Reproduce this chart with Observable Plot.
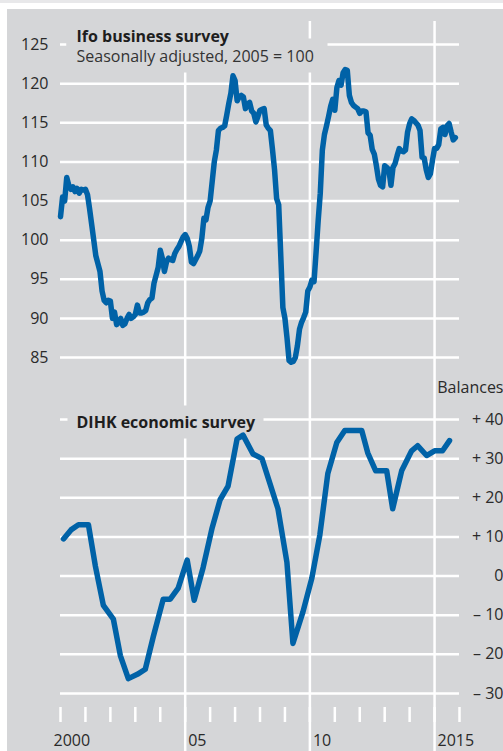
<!DOCTYPE html>
<html><head><meta charset="utf-8">
<script src="https://cdn.jsdelivr.net/npm/d3@7"></script>
<script src="https://cdn.jsdelivr.net/npm/@observablehq/plot@0.6"></script>
<style>
body{margin:0;background:#fff;font-family:"Open Sans",sans-serif;}
#wrap{position:relative;width:503px;height:751px;overflow:hidden;}
.abs{position:absolute;}
</style></head><body>
<div id="wrap">
  <div class="abs" style="left:0;top:0;width:503px;height:3px;background:#e8e8ea"></div>
  <div class="abs" style="left:7px;top:9px;width:496px;height:742px;background:#d5d6d8"></div>
  <div id="top" class="abs" style="left:0;top:9px"></div>
  <div id="bottom" class="abs" style="left:0;top:370px"></div>
</div>
<script>
// Ifo business climate, monthly from January 2000 (2005 = 100)
const ifoStartYear = 2000;
const ifoValues = [
  103, 105.5, 105, 108, 107, 106.5, 106.8, 106.2, 106.6, 106, 106.5, 106.4,
  106.5, 105.8, 104, 102, 100, 98, 97, 96, 93.5, 92.3, 92, 92.3,
  92.2, 90, 90.8, 89.2, 89.5, 90, 89.1, 89.3, 90, 90.5, 90, 90.2,
  90.5, 91.7, 90.7, 90.7, 90.8, 91, 92, 92.4, 92.6, 94.5, 95.5, 96.5,
  98.7, 97.7, 96, 97.2, 97.7, 97.5, 97.4, 98.3, 98.8, 99.2, 99.8, 100.4,
  100.7, 100.2, 99.2, 97.2, 97, 97.5, 98, 98.6, 100.2, 102.8, 102.6, 104.2,
  105, 107.5, 110, 111.5, 114, 114.3, 114.4, 114.6, 116, 117.5, 118.8, 121,
  120.4, 117.8, 118.3, 118.5, 118.3, 116.8, 117.4, 117.6, 116.5, 116.2, 115.1, 115.8,
  116.6, 116.7, 116.8, 114.7, 114.3, 114, 111.6, 109, 105.3, 104.5, 98, 91.4,
  90, 87.5, 84.6, 84.4, 84.5, 85, 86.5, 88.6, 89.5, 90.1, 90.8, 93.5,
  94, 94.9, 94.7, 98.5, 102.5, 106, 111.5, 113.5, 114.6, 115.8, 117.1, 118,
  116.6, 119.5, 120.4, 119.8, 121.4, 121.8, 121.7, 118.5, 117.6, 117.2, 117, 116.8,
  116.2, 116.5, 116.5, 116.4, 113.7, 113.4, 111.6, 111, 109.5, 107.8, 107, 106.8,
  109.5, 109.3, 109, 107, 109.3, 109.8, 110.8, 111.7, 111.4, 111.3, 111.5, 113.8,
  114.9, 115.5, 115.3, 115, 114.7, 114, 110.6, 110.5, 109, 108, 108.5, 110.2,
  111.7, 111.7, 112.2, 114.2, 114.4, 113.5, 114.6, 114.9, 113.8, 112.8, 113.1
];
const ifoTicks = [85, 90, 95, 100, 105, 110, 115, 120, 125];

// DIHK economic survey, balances (survey dates as decimal years)
const dihkDates = [
  2000.12, 2000.42, 2000.72, 2001.12, 2001.4, 2001.72, 2002.12, 2002.4, 2002.72,
  2003.08, 2003.4, 2003.72, 2004.12, 2004.4, 2004.72, 2005.08, 2005.36, 2005.72,
  2006.08, 2006.4, 2006.72, 2007.08, 2007.32, 2007.72, 2008.08, 2008.4, 2008.72,
  2009.08, 2009.32, 2009.72, 2010.08, 2010.4, 2010.72, 2011.08, 2011.4, 2011.72,
  2012.08, 2012.32, 2012.64, 2013.08, 2013.32, 2013.68, 2014.08, 2014.32, 2014.68,
  2015.0, 2015.32, 2015.6
];
const dihkValues = [
  9.5, 11.8, 13.1, 13.1, 2.5, -7.5, -11, -20.3, -26.2,
  -25.1, -23.8, -15.5, -5.9, -5.9, -3.1, 4.1, -6.2, 2.2,
  12.3, 19.5, 23, 35, 36, 31.2, 30, 23.6, 17.2,
  3.5, -17.2, -9.2, -0.5, 10.5, 26.2, 34.1, 37.2, 37.2,
  37.2, 31.5, 26.9, 26.9, 17.2, 26.9, 32, 33.3, 30.8,
  32, 32, 34.6
];
const dihkTicks = [-30, -20, -10, 0, 10, 20, 30, 40];

const yearTicks = [2000, 2001, 2002, 2003, 2004, 2005, 2006, 2007, 2008, 2009, 2010, 2011, 2012, 2013, 2014, 2015, 2016];
const gridYears = [2005, 2010, 2015];
const xLabelYears = [2000, 2005, 2010, 2015];
const xLabelTexts = ["2000", "05", "10", "2015"];

const ifoTitle = "Ifo business survey";
const ifoSubtitle = "Seasonally adjusted, 2005 = 100";
const dihkTitle = "DIHK economic survey";
const dihkUnit = "Balances";

const ifo = ifoValues.map((v, i) => ({date: ifoStartYear + i / 12, value: v}));
const dihk = dihkDates.map((d, i) => ({date: d, value: dihkValues[i]}));
const xLabels = xLabelYears.map((y, i) => ({year: y, text: xLabelTexts[i]}));

const BLUE = "#0062a7", TXT = "#2a2a2a", BG = "#d5d6d8", FONT = "Open Sans";
const common = {
  width: 503, marginLeft: 60, marginRight: 44,
  x: {domain: [2000, 2016], axis: null},
  style: {background: "transparent", overflow: "visible", fontFamily: FONT, fontSize: "16px"}
};
const grid = {stroke: "#fff", strokeWidth: 2.5};
const txt = {fill: TXT, fontSize: 16, fontFamily: FONT};
const lineOpts = {x: "date", y: "value", stroke: BLUE, strokeWidth: 5.5, strokeLinejoin: "round", strokeLinecap: "round"};
const fmt = v => v > 0 ? "+ " + v : v < 0 ? "\u2013 " + Math.abs(v) : "0";

const topPlot = Plot.plot({
  ...common, height: 361, marginTop: 35, marginBottom: 13,
  y: {domain: [85, 125], axis: null},
  marks: [
    Plot.ruleX(gridYears, {...grid, insetTop: -23, insetBottom: -13}),
    Plot.ruleY(ifoTicks, grid),
    // background boxes behind the title block
    Plot.frame({fill: BG, stroke: "none", insetLeft: 6, insetRight: 224, insetTop: -24, insetBottom: 311}),
    Plot.frame({fill: BG, stroke: "none", insetLeft: 6, insetRight: 132, insetTop: -6, insetBottom: 285}),
    Plot.text([ifoTitle], {text: d => d, frameAnchor: "top-left", textAnchor: "start", lineAnchor: "bottom", dx: 16, dy: -3, ...txt, fill: "#1e1e1e", fontWeight: "bold"}),
    Plot.text([ifoSubtitle], {text: d => d, frameAnchor: "top-left", textAnchor: "start", lineAnchor: "bottom", dx: 16, dy: 17, ...txt, fill: "#333"}),
    Plot.text(ifoTicks, {y: d => d, text: d => String(d), frameAnchor: "left", textAnchor: "end", dx: -12, ...txt}),
    Plot.line(ifo, lineOpts)
  ]
});

const bottomPlot = Plot.plot({
  ...common, height: 381, marginTop: 49, marginBottom: 58,
  y: {domain: [-30, 40], axis: null},
  marks: [
    Plot.ruleX(gridYears, {...grid, insetTop: -49, insetBottom: -58}),
    Plot.ruleY(dihkTicks, grid),
    Plot.ruleX(yearTicks, {...grid, insetTop: 288, insetBottom: -29}),
    Plot.frame({fill: BG, stroke: "none", insetLeft: 7, insetRight: 196, insetTop: -14, insetBottom: 255}),
    Plot.text([dihkTitle], {text: d => d, frameAnchor: "top-left", textAnchor: "start", lineAnchor: "bottom", dx: 16, dy: 8, ...txt, fill: "#1e1e1e", fontWeight: "bold"}),
    Plot.text(dihkTicks, {y: d => d, text: fmt, frameAnchor: "right", textAnchor: "end", dx: 44, ...txt}),
    Plot.text([dihkUnit], {text: d => d, frameAnchor: "top-right", textAnchor: "end", lineAnchor: "bottom", dx: 44, dy: -27, ...txt}),
    Plot.text(xLabels.filter(d => d.year === 2000), {x: "year", text: "text", frameAnchor: "bottom", lineAnchor: "bottom", textAnchor: "start", dx: -7, dy: 52, ...txt}),
    Plot.text(xLabels.filter(d => d.year !== 2000), {x: "year", text: "text", frameAnchor: "bottom", lineAnchor: "bottom", textAnchor: "start", dx: 3, dy: 52, ...txt}),
    Plot.line(dihk, lineOpts)
  ]
});

document.getElementById("top").appendChild(topPlot);
document.getElementById("bottom").appendChild(bottomPlot);
</script>
</body></html>
